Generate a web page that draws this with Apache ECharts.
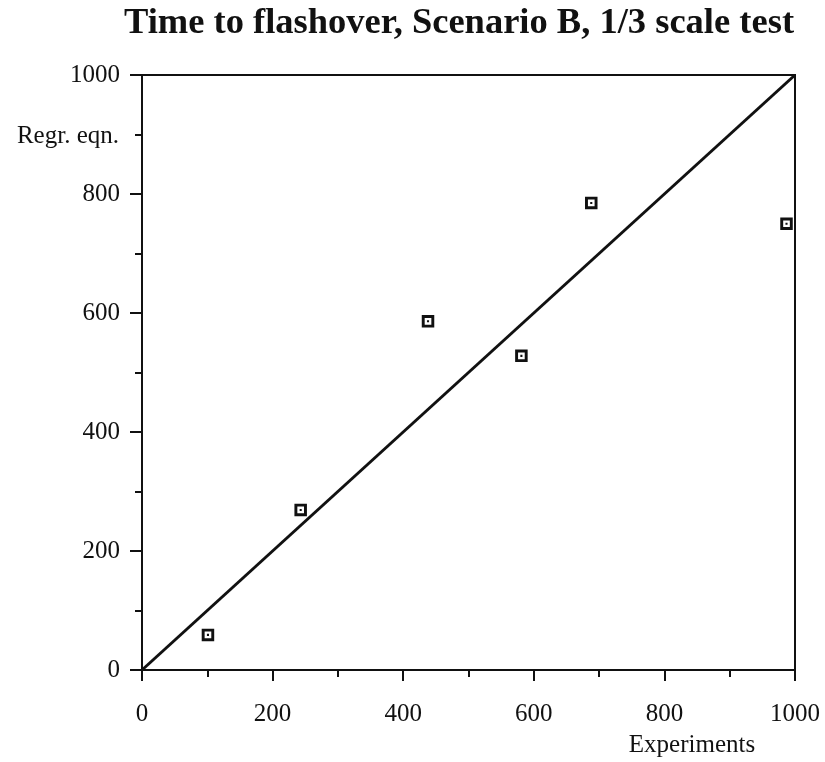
<!DOCTYPE html>
<html>
<head>
<meta charset="utf-8">
<script src="https://cdn.jsdelivr.net/npm/echarts@6/dist/echarts.min.js"></script>
<style>html,body{margin:0;padding:0;background:#fff}#c{width:825px;height:762px}</style>
</head>
<body>
<div id="c"></div>
<script>
const titleText = 'Time to flashover, Scenario B, 1/3 scale test';
const xName = 'Experiments';
const yName = 'Regr. eqn.';
const experiments = [101, 243, 438, 581, 688, 987];
const regression = [59, 269, 586, 528, 785, 750];
const lineX = [0, 1000];
const lineY = [0, 1000];
const axisMin = 0, axisMax = 1000, axisStep = 200;

const chart = echarts.init(document.getElementById('c'), null, {renderer: 'canvas'});
const font = '"Liberation Serif", "DejaVu Serif", serif';
const sym = 'path://M0,0L12,0L12,12L0,12Z M2.8,2.8L2.8,9.2L9.2,9.2L9.2,2.8Z M5,5L7,5L7,7L5,7Z';

chart.setOption({
  animation: false,
  backgroundColor: '#fff',
  title: {
    text: titleText,
    left: 454, top: 0, textAlign: 'center',
    textStyle: {fontFamily: font, fontWeight: 'bold', fontSize: 36.5, color: '#111'}
  },
  grid: {left: 142, right: 30, top: 75, bottom: 92, show: true, borderColor: '#111', borderWidth: 2, backgroundColor: 'transparent'},
  xAxis: {
    type: 'value', min: axisMin, max: axisMax, interval: axisStep,
    axisLine: {show: true, onZero: false, lineStyle: {color: '#111', width: 2}},
    axisTick: {show: true, inside: false, length: 11, lineStyle: {color: '#111', width: 2}},
    minorTick: {show: true, splitNumber: 2, length: 7, lineStyle: {color: '#111', width: 2}},
    splitLine: {show: false},
    axisLabel: {margin: 32, fontFamily: font, fontSize: 25, color: '#111', formatter: v => String(v)},
    name: xName, nameLocation: 'end', nameGap: 0,
    nameTextStyle: {fontFamily: font, fontSize: 25, color: '#111', align: 'center', verticalAlign: 'top', padding: [63, 0, 0, -206]}
  },
  yAxis: {
    type: 'value', min: axisMin, max: axisMax, interval: axisStep,
    axisLine: {show: true, onZero: false, lineStyle: {color: '#111', width: 2}},
    axisTick: {show: true, inside: false, length: 12, lineStyle: {color: '#111', width: 2}},
    minorTick: {show: true, splitNumber: 2, length: 7, lineStyle: {color: '#111', width: 2}},
    splitLine: {show: false},
    axisLabel: {margin: 22, fontFamily: font, fontSize: 25, color: '#111', formatter: v => String(v)}
  },
  graphic: [{
    type: 'text', right: 825 - 119, top: 124,
    style: {text: yName, font: '25px ' + font, fill: '#111', textAlign: 'right'}
  }],
  series: [
    {
      type: 'line', data: lineX.map((x, i) => [x, lineY[i]]),
      showSymbol: false, lineStyle: {color: '#111', width: 3}, silent: true
    },
    {
      type: 'scatter', data: experiments.map((x, i) => [x, regression[i]]),
      symbol: sym, symbolSize: 12.5,
      itemStyle: {color: '#111', opacity: 1}
    }
  ]
});
</script>
</body>
</html>
